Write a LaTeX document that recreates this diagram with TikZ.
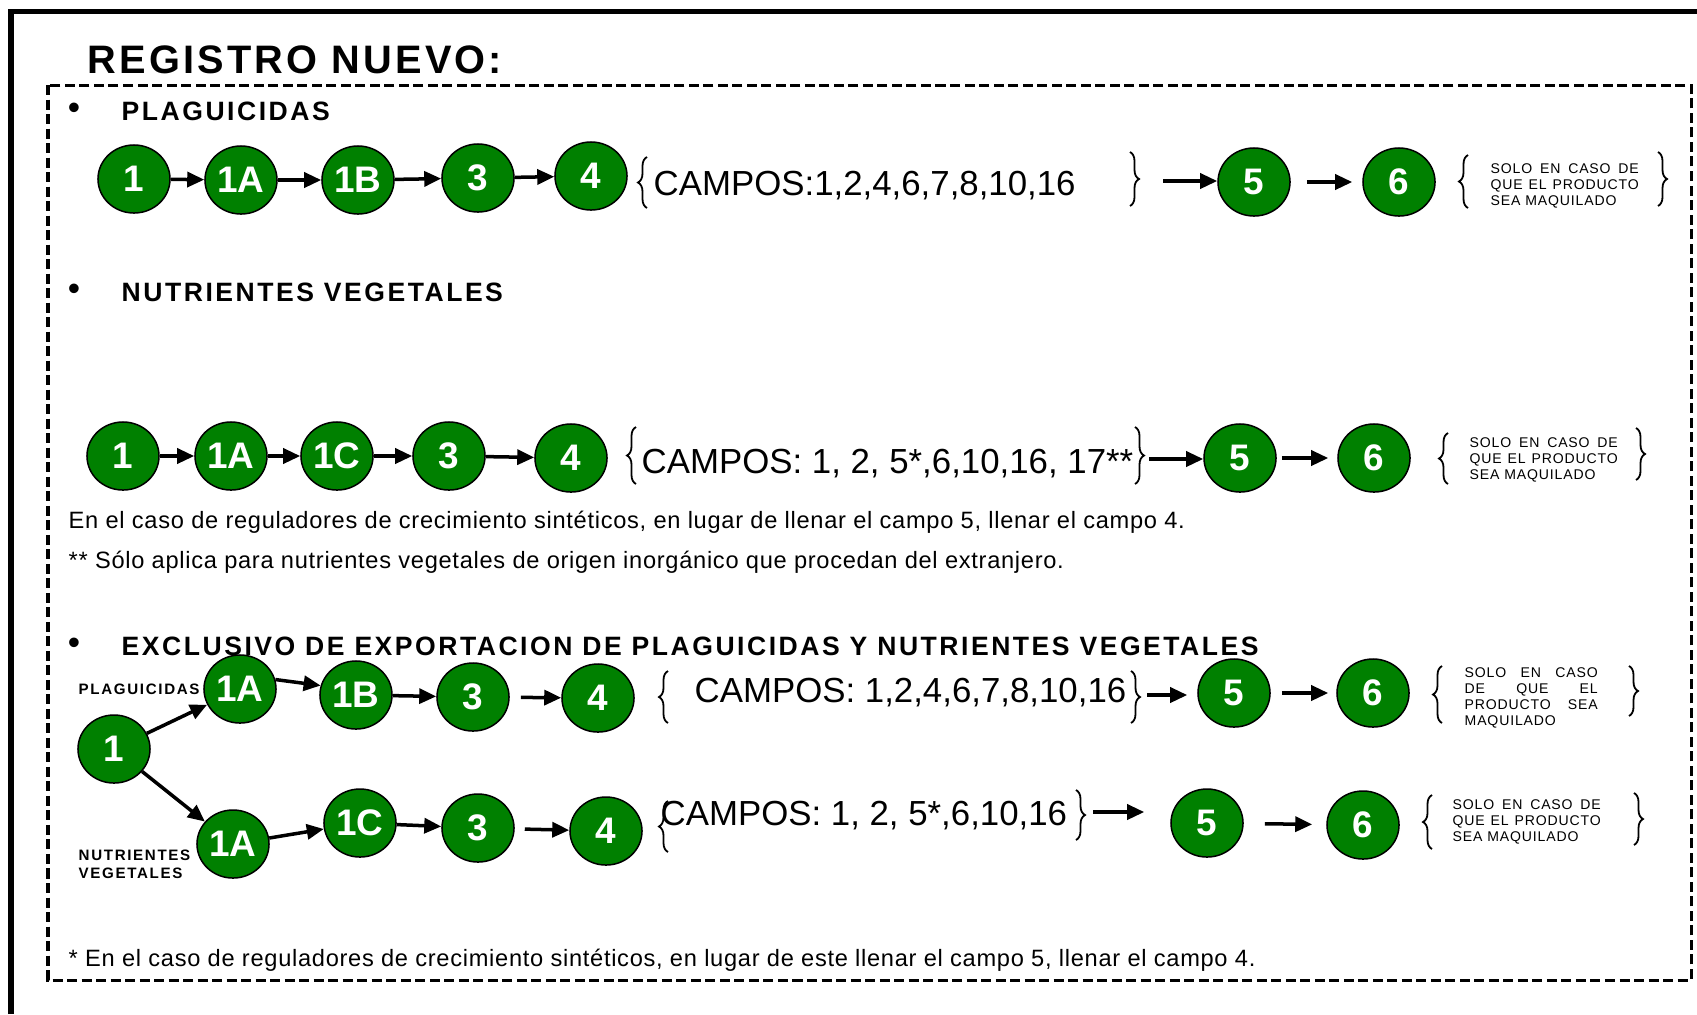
\documentclass[tikz,border=0pt]{standalone}
\usepackage{fontspec}
\setmainfont{Liberation Sans}
\newfontfamily\ttlfam[LetterSpace=8]{Liberation Sans}
\newfontfamily\hdfam[LetterSpace=9.5]{Liberation Sans}
\newfontfamily\lblfam[LetterSpace=11]{Liberation Sans}
\newfontfamily\solofam[LetterSpace=6]{Liberation Sans}
\newfontfamily\notafam[LetterSpace=3]{Liberation Sans}
\usetikzlibrary{shapes.geometric,arrows.meta,decorations.pathreplacing,calc}
\definecolor{verde}{HTML}{008000}
\tikzset{
  paso/.style={ellipse, draw=black, line width=0.015cm, fill=verde, text=white, inner sep=0pt,
    minimum width=0.72cm, minimum height=0.68cm, font=\bfseries\fontsize{10.5}{12}\selectfont},
  flecha/.style={draw=black, line width=0.035cm, -{Triangle[length=0.17cm,width=0.15cm]}},
  llave/.style={decorate, decoration={brace,amplitude=0.09cm}, line width=0.018cm},
  titulo/.style={anchor=west, inner sep=0pt, font=\ttlfam\bfseries\fontsize{11.3}{13}\selectfont},
  encab/.style={anchor=west, inner sep=0pt, font=\hdfam\bfseries\fontsize{7.55}{9}\selectfont},
  vineta/.style={inner sep=0pt, font=\fontsize{10}{12}\selectfont},
  campos/.style={anchor=west, inner sep=0pt, font=\fontsize{9.9}{11}\selectfont},
  solo/.style={anchor=west, inner sep=0pt, align=left, font=\solofam\fontsize{4}{4.55}\selectfont},
  rotulo/.style={anchor=west, inner sep=0pt, align=left, font=\lblfam\bfseries\fontsize{4.3}{5.1}\selectfont},
  nota/.style={anchor=west, inner sep=0pt, font=\notafam\fontsize{6.72}{8}\selectfont},
}
\newcommand{\jline}[2]{\makebox[#1][s]{#2}}

\begin{document}
\begin{tikzpicture}[x=0.01cm,y=-0.01cm]
  \useasboundingbox (0,0) rectangle (1697,1014);
  % marcos
  \draw[line width=0.05cm] (11,1014) -- (11,11) -- (1697,11);
  \draw[line width=0.03cm, dash pattern=on 0.1cm off 0.045cm] (48,85) rectangle (1691,980);

  \node[titulo] (tit) at (87,60) {REGISTRO NUEVO:};

  % plaguicidas
  \node[vineta] (v1) at (74,111) {\textbullet};
  \node[encab] (h1) at (121,111) {PLAGUICIDAS};
  \node[paso] (a1) at (134,179) {1};
  \node[paso] (a1a) at (241,180) {1A};
  \node[paso] (a1b) at (358,180) {1B};
  \node[paso] (a3) at (478,178) {3};
  \node[paso] (a4) at (591,176) {4};
  \draw[flecha] (a1) -- (a1a);
  \draw[flecha] (a1a) -- (a1b);
  \draw[flecha] (a1b) -- (a3);
  \draw[flecha] (a3) -- (a4);
  \draw[llave] (647,208) -- (647,157);
  \node[campos] (k1) at (653,186) {CAMPOS:1,2,4,6,7,8,10,16};
  \draw[llave] (1130,152) -- (1130,206);
  \coordinate (r1) at (1163,181);
  \node[paso] (a5) at (1254,182) {5};
  \node[paso] (a6) at (1399,182) {6};
  \draw[flecha] (r1) -- (r1 -| a5.west);
  \draw[flecha, shorten <=0.16cm, shorten >=0.1cm] (a5) -- (a6);
  \draw[llave] (1468,208) -- (1468,155);
  \node[solo] (s1) at (1490,186) {\jline{1.48cm}{SOLO EN CASO DE}\\\jline{1.48cm}{QUE EL PRODUCTO}\\SEA MAQUILADO};
  \draw[llave] (1658,152) -- (1658,206);

  % nutrientes vegetales
  \node[vineta] (v2) at (74,292) {\textbullet};
  \node[encab] (h2) at (121,292) {NUTRIENTES VEGETALES};
  \node[paso] (b1) at (123,456) {1};
  \node[paso] (b1a) at (231,456) {1A};
  \node[paso] (b1c) at (337,456) {1C};
  \node[paso] (b3) at (449,456) {3};
  \node[paso] (b4) at (571,458) {4};
  \draw[flecha] (b1) -- (b1a);
  \draw[flecha] (b1a) -- (b1c);
  \draw[flecha] (b1c) -- (b3);
  \draw[flecha] (b3) -- (b4);
  \draw[llave] (636,484) -- (636,427);
  \node[campos] (k2) at (641,464) {CAMPOS: 1, 2, 5*,6,10,16, 17**};
  \draw[llave] (1135,427) -- (1135,484);
  \coordinate (r2) at (1149,459);
  \node[paso] (b5) at (1240,458) {5};
  \node[paso] (b6) at (1374,458) {6};
  \draw[flecha] (r2) -- (r2 -| b5.west);
  \draw[flecha, shorten <=0.05cm, shorten >=0.09cm] (b5) -- (b6);
  \draw[llave] (1448,484) -- (1448,433);
  \node[solo] (s2) at (1469,460) {\jline{1.48cm}{SOLO EN CASO DE}\\\jline{1.48cm}{QUE EL PRODUCTO}\\SEA MAQUILADO};
  \draw[llave] (1636,428) -- (1636,480);
  \node[nota] (n1) at (68,522) {En el caso de reguladores de crecimiento sintéticos, en lugar de llenar el campo 5, llenar el campo 4.};
  \node[nota] (n2) at (68,562) {** Sólo aplica para nutrientes vegetales de origen inorgánico que procedan del extranjero.};

  % exportacion
  \node[vineta] (v3) at (74,646) {\textbullet};
  \node[encab] (h3) at (121,646) {EXCLUSIVO DE EXPORTACION DE PLAGUICIDAS Y NUTRIENTES VEGETALES};
  \node[rotulo] (l1) at (78,689) {PLAGUICIDAS};
  \node[rotulo] (l2) at (78,864) {NUTRIENTES\\VEGETALES};
  \node[paso] (c1) at (114,749) {1};
  \node[paso] (c1a) at (240,689) {1A};
  \node[paso] (c1b) at (356,695) {1B};
  \node[paso] (c3) at (473,697) {3};
  \node[paso] (c4) at (598,698) {4};
  \draw[flecha] (c1) -- (c1a);
  \draw[flecha] (c1a.15) -- (c1b.165);
  \draw[flecha] (c1b) -- (c3);
  \draw[flecha, shorten <=0.11cm] (c3) -- (c4);
  \draw[llave] (668,723) -- (668,671);
  \node[campos] (k3) at (694,693) {CAMPOS: 1,2,4,6,7,8,10,16};
  \draw[llave] (1131,671) -- (1131,723);
  \coordinate (r3) at (1147,695);
  \node[paso] (c5) at (1234,693) {5};
  \node[paso] (c6) at (1373,693) {6};
  \draw[flecha, shorten >=0.1cm] (r3) -- (r3 -| c5.west);
  \draw[flecha, shorten <=0.11cm, shorten >=0.08cm] (c5) -- (c6);
  \draw[llave] (1442,723) -- (1442,666);
  \node[solo] (s3) at (1464,698) {\jline{1.33cm}{SOLO EN CASO}\\\jline{1.33cm}{DE QUE EL}\\\jline{1.33cm}{PRODUCTO SEA}\\MAQUILADO};
  \draw[llave] (1629,666) -- (1629,716);

  \node[paso] (d1a) at (233,844) {1A};
  \node[paso] (d1c) at (360,823) {1C};
  \node[paso] (d3) at (478,828) {3};
  \node[paso] (d4) at (606,831) {4};
  \draw[flecha] (c1) -- (d1a);
  \draw[flecha] (d1a) -- (d1c);
  \draw[flecha] (d1c) -- (d3);
  \draw[flecha, shorten <=0.1cm] (d3) -- (d4);
  \draw[llave] (668,852) -- (668,801);
  \node[campos] (k4) at (660,816) {CAMPOS: 1, 2, 5*,6,10,16};
  \draw[llave] (1076,790) -- (1076,840);
  \coordinate (r4) at (1093,812);
  \node[paso] (d5) at (1207,823) {5};
  \node[paso] (d6) at (1363,825) {6};
  \draw[flecha, shorten >=0.26cm] (r4) -- (r4 -| d5.west);
  \draw[flecha, shorten <=0.21cm, shorten >=0.14cm] (d5) -- (d6);
  \draw[llave] (1432,849) -- (1432,795);
  \node[solo] (s4) at (1452,822) {\jline{1.48cm}{SOLO EN CASO DE}\\\jline{1.48cm}{QUE EL PRODUCTO}\\SEA MAQUILADO};
  \draw[llave] (1634,793) -- (1634,845);

  \node[nota] (n3) at (68,960) {* En el caso de reguladores de crecimiento sintéticos, en lugar de este llenar el campo 5, llenar el campo 4.};
\end{tikzpicture}
\end{document}
